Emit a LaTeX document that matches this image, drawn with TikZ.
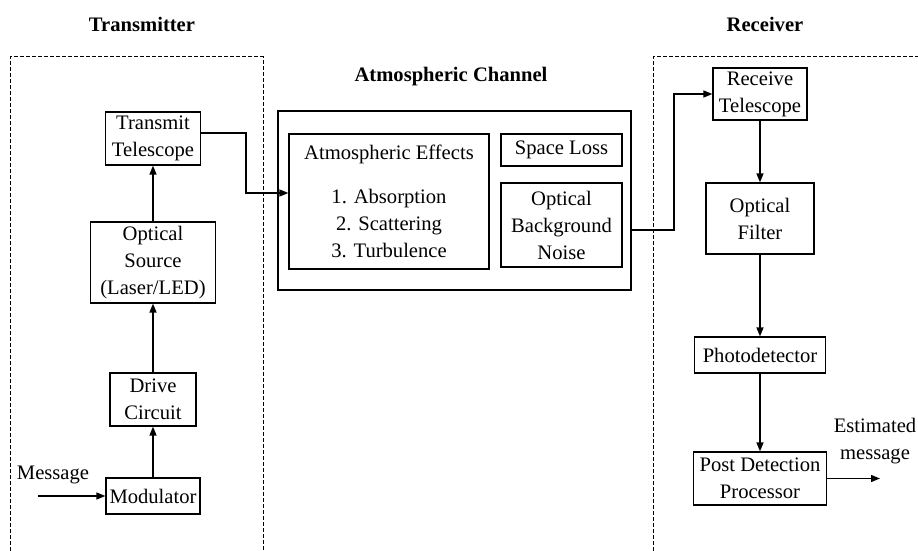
\documentclass[tikz,border=0pt]{standalone}
\usepackage{fontspec}
\setmainfont{Liberation Serif}
\usetikzlibrary{calc, arrows.meta}

\begin{document}
\begin{tikzpicture}[x=0.5pt,y=-0.5pt,
    font=\fontsize{10.3pt}{13.5pt}\selectfont,
    blk/.style={draw, line width=0.6pt, align=center, inner sep=0pt},
    ttl/.style={font=\fontsize{10.3pt}{13.5pt}\selectfont\bfseries},
    frame/.style={line width=0.5pt, dash pattern=on 2pt off 1pt},
    flow/.style={line width=0.7pt, -{Triangle[length=4.5pt,width=3.5pt]}}]
    \useasboundingbox (0,0) rectangle (918,551);
    % transmitter
    \node[ttl] (txt) at (142,24) {Transmitter};
    \draw[frame] (10,551)--(10,57)--(263,57)--(263,551);
    \node[blk, minimum width=47.5pt, minimum height=26.5pt] (tel) at (153,138.5) {Transmit\\Telescope};
    \node[blk, minimum width=62.5pt, minimum height=40.5pt] (src) at (153,262.5) {Optical\\Source\\(Laser/LED)};
    \node[blk, minimum width=43pt, minimum height=26.5pt] (drv) at (153,399.5) {Drive\\Circuit};
    \node[blk, minimum width=47pt, minimum height=18pt] (mod) at (153,496) {Modulator};
    \node (msg) at (53,475) {Message};
    \coordinate (msgin) at (38,496);
    \draw[flow] (msgin)--(mod.west);
    \draw[flow] (mod)--(drv);
    \draw[flow] (drv)--(src);
    \draw[flow] (src)--(tel);
    % channel
    \node[ttl] (ctxt) at (451,77) {Atmospheric Channel};
    \node[blk, minimum width=176.5pt, minimum height=89.5pt] (chan) at (454.5,200.5) {};
    \node[blk, minimum width=100pt, minimum height=67.5pt] (eff) at (389,201.5)
        {Atmospheric Effects\\[8.5pt]1. Absorption\\2. Scattering\\3. Turbulence};
    \node[blk, minimum width=60.5pt, minimum height=16pt] (loss) at (561.5,150) {Space Loss};
    \node[blk, minimum width=60.5pt, minimum height=42pt] (noise) at (561.5,225) {Optical\\Background\\Noise};
    \coordinate (bend1) at (246,193);
    \draw[flow] ([yshift=2.75pt]tel.east) -| (bend1) -- (bend1 -| eff.west);
    % receiver
    \node[ttl] (rtxt) at (765,24) {Receiver};
    \draw[frame] (653,551)--(653,57)--(918,57);
    \node[blk, minimum width=47pt, minimum height=26pt] (rtel) at (760,94) {Receive\\Telescope};
    \node[blk, minimum width=54pt, minimum height=35.5pt] (filt) at (760,218.5) {Optical\\Filter};
    \node[blk, minimum width=65.5pt, minimum height=18pt] (pd) at (760,355) {Photodetector};
    \node[blk, minimum width=66.5pt, minimum height=26.5pt] (pdp) at (760,478.5) {Post Detection\\Processor};
    \coordinate (bend2) at (674,0);
    \draw[flow] ([yshift=-2.5pt]noise.east -| chan.east) -| (bend2 |- rtel.west) -- (rtel.west);
    \draw[flow] (rtel)--(filt);
    \draw[flow] (filt)--(pd);
    \draw[flow] (pd)--(pdp);
    \node[align=center] (est) at (875,441) {Estimated\\message};
    \coordinate (out) at (880,478.5);
    \draw[flow] (pdp.east)--(out);
\end{tikzpicture}
\end{document}
